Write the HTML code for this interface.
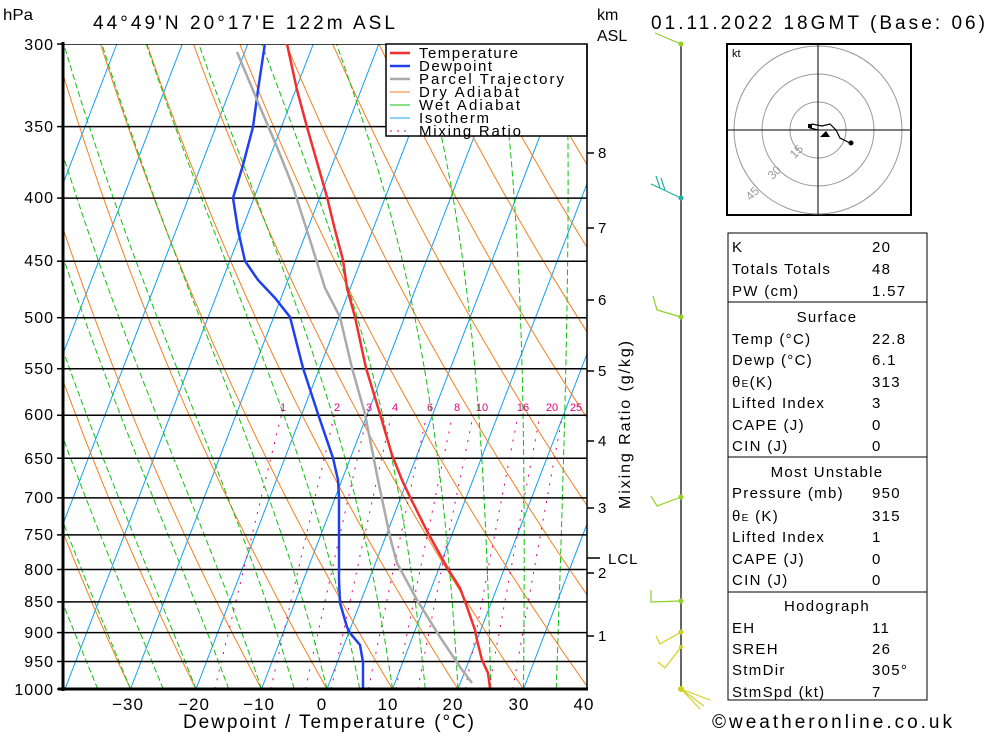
<!DOCTYPE html>
<html><head><meta charset="utf-8"><style>
body{margin:0;background:#fff;}
svg text{font-family:"Liberation Sans",sans-serif;}
.tb text{letter-spacing:1.3px;}
</style></head><body>
<svg id="s" width="1000" height="733" viewBox="0 0 1000 733" xmlns="http://www.w3.org/2000/svg">
<defs><clipPath id="c"><rect x="63" y="44" width="524" height="645"/></clipPath></defs>
<g id="bg" clip-path="url(#c)"></g>
<g id="fg" clip-path="url(#c)"></g>
<g font-size="16" fill="#000">
<text x="3" y="20" textLength="30" lengthAdjust="spacingAndGlyphs">hPa</text>
<text x="93" y="29" font-size="19" textLength="302" lengthAdjust="spacing">44°49'N  20°17'E  122m  ASL</text>
<text x="597" y="20">km</text>
<text x="597" y="41">ASL</text>
<text x="651" y="29" font-size="19" textLength="334" lengthAdjust="spacing">01.11.2022  18GMT  (Base: 06)</text>
<g text-anchor="end" letter-spacing="1">
<text x="54" y="50">300</text><text x="54" y="132">350</text><text x="54" y="203">400</text>
<text x="54" y="266">450</text><text x="54" y="323">500</text><text x="54" y="374">550</text>
<text x="54" y="420">600</text><text x="54" y="464">650</text><text x="54" y="503">700</text>
<text x="54" y="540">750</text><text x="54" y="575">800</text><text x="54" y="607">850</text>
<text x="54" y="638">900</text><text x="54" y="667">950</text><text x="54" y="695">1000</text>
</g>
<g text-anchor="middle" font-size="17" letter-spacing="1">
<text x="128" y="710">−30</text><text x="194" y="710">−20</text><text x="259" y="710">−10</text>
<text x="322" y="710">0</text><text x="388" y="710">10</text><text x="453" y="710">20</text>
<text x="519" y="710">30</text><text x="584" y="710">40</text>
</g>
<text x="183" y="728" font-size="19" textLength="291" lengthAdjust="spacing">Dewpoint / Temperature (°C)</text>
<g font-size="15">
<text x="598" y="158">8</text><text x="598" y="233">7</text><text x="598" y="305">6</text>
<text x="598" y="376">5</text><text x="598" y="446">4</text><text x="598" y="513">3</text>
<text x="598" y="578">2</text><text x="598" y="641">1</text><text x="608" y="564" letter-spacing="1">LCL</text>
</g>
<text x="630" y="425" font-size="16" text-anchor="middle" textLength="168" lengthAdjust="spacing" transform="rotate(-90 630 425)">Mixing Ratio (g/kg)</text>
<g font-size="11" fill="#e0007f" text-anchor="middle">
<text x="283" y="411">1</text><text x="337" y="411">2</text><text x="369" y="411">3</text>
<text x="395" y="411">4</text><text x="430" y="411">6</text><text x="457" y="411">8</text>
<text x="482" y="411">10</text><text x="523" y="411">16</text><text x="552" y="411">20</text>
<text x="576" y="411">25</text>
</g>
<text x="712" y="728" font-size="19" textLength="240" lengthAdjust="spacing">©weatheronline.co.uk</text>
</g>
<!-- pressure ticks left -->
<g stroke="#000" stroke-width="1.5" id="lt"></g>
<!-- legend -->
<g>
<rect x="386" y="44" width="201" height="92" fill="#fff" stroke="#000" stroke-width="1.5"/>
<g stroke-width="2">
<line x1="390" y1="53" x2="410" y2="53" stroke="#f03030" stroke-width="2.5"/>
<line x1="390" y1="66" x2="410" y2="66" stroke="#2040f0" stroke-width="2.5"/>
<line x1="390" y1="79" x2="410" y2="79" stroke="#aaa" stroke-width="2.5"/>
<line x1="390" y1="92" x2="410" y2="92" stroke="#f08020" stroke-width="1"/>
<line x1="390" y1="105" x2="410" y2="105" stroke="#10c010" stroke-width="1"/>
<line x1="390" y1="118" x2="410" y2="118" stroke="#10a0f0" stroke-width="1"/>
<line x1="390" y1="131" x2="410" y2="131" stroke="#e0007f" stroke-width="1" stroke-dasharray="2,5"/>
</g>
<g font-size="15">
<text x="419" y="58" textLength="99" lengthAdjust="spacing">Temperature</text>
<text x="419" y="71" textLength="73" lengthAdjust="spacing">Dewpoint</text>
<text x="419" y="84" textLength="145" lengthAdjust="spacing">Parcel Trajectory</text>
<text x="419" y="97" textLength="100" lengthAdjust="spacing">Dry Adiabat</text>
<text x="419" y="110" textLength="101" lengthAdjust="spacing">Wet Adiabat</text>
<text x="419" y="123" textLength="70" lengthAdjust="spacing">Isotherm</text>
<text x="419" y="136" textLength="102" lengthAdjust="spacing">Mixing Ratio</text>
</g>
</g>
<!-- hodograph -->
<g>
<rect x="727" y="44" width="184" height="171" fill="#fff" stroke="#000" stroke-width="2"/>
<g fill="none" stroke="#999"><circle cx="818" cy="130" r="28"/><circle cx="818" cy="130" r="56"/><circle cx="818" cy="130" r="84"/></g>
<line x1="727" y1="130" x2="911" y2="130" stroke="#000"/><line x1="818" y1="44" x2="818" y2="215" stroke="#000"/>
<text x="732" y="57" font-size="11">kt</text>
<g font-size="12" fill="#999"><text x="790" y="156" transform="rotate(-45 796 152)">15</text><text x="768" y="177" transform="rotate(-45 774 173)">30</text><text x="746" y="198" transform="rotate(-45 752 194)">45</text></g>
<polyline points="818,130 810,128 812,124 822,126 830,124 836,130 840,138 850,143" fill="none" stroke="#000" stroke-width="1.2"/>
<circle cx="851" cy="143" r="2.5" fill="#000"/><polygon points="826,131 820,137 830,137" fill="#000"/><rect x="808" y="124" width="4" height="4" fill="#000"/>
</g>
<!-- table -->
<g font-size="15" class="tb">
<rect x="728" y="233" width="199" height="467" fill="none" stroke="#000"/>
<line x1="728" y1="302" x2="927" y2="302" stroke="#000"/>
<line x1="728" y1="457" x2="927" y2="457" stroke="#000"/>
<line x1="728" y1="592" x2="927" y2="592" stroke="#000"/>
<text x="732" y="252">K</text><text x="872" y="252">20</text>
<text x="732" y="274">Totals Totals</text><text x="872" y="274">48</text>
<text x="732" y="296">PW (cm)</text><text x="872" y="296">1.57</text>
<text x="827" y="322" text-anchor="middle">Surface</text>
<text x="732" y="344">Temp (°C)</text><text x="872" y="344">22.8</text>
<text x="732" y="365">Dewp (°C)</text><text x="872" y="365">6.1</text>
<text x="732" y="387">θ<tspan font-size="10">E</tspan>(K)</text><text x="872" y="387">313</text>
<text x="732" y="408">Lifted Index</text><text x="872" y="408">3</text>
<text x="732" y="430">CAPE (J)</text><text x="872" y="430">0</text>
<text x="732" y="451">CIN (J)</text><text x="872" y="451">0</text>
<text x="827" y="477" text-anchor="middle">Most Unstable</text>
<text x="732" y="498">Pressure (mb)</text><text x="872" y="498">950</text>
<text x="732" y="521">θ<tspan font-size="10">E</tspan> (K)</text><text x="872" y="521">315</text>
<text x="732" y="542">Lifted Index</text><text x="872" y="542">1</text>
<text x="732" y="564">CAPE (J)</text><text x="872" y="564">0</text>
<text x="732" y="585">CIN (J)</text><text x="872" y="585">0</text>
<text x="827" y="611" text-anchor="middle">Hodograph</text>
<text x="732" y="633">EH</text><text x="872" y="633">11</text>
<text x="732" y="654">SREH</text><text x="872" y="654">26</text>
<text x="732" y="675">StmDir</text><text x="872" y="675">305°</text>
<text x="732" y="697">StmSpd (kt)</text><text x="872" y="697">7</text>
</g>
<!-- wind line -->
<g stroke-width="1.2" fill="none">
<line x1="681" y1="44" x2="681" y2="689" stroke="#000"/>
<path d="M681,44 L655,33" stroke="#90d020"/><circle cx="681" cy="44" r="2.5" fill="#90d020" stroke="none"/>
<path d="M681,198 L651,184 M660,188 L656,176 M665,190 L661,178" stroke="#20b0a0"/><circle cx="681" cy="198" r="2.5" fill="#20b0a0" stroke="none"/>
<path d="M681,317 L657,310 L653,296" stroke="#90d020"/><circle cx="681" cy="317" r="2.5" fill="#90d020" stroke="none"/>
<path d="M681,497 L657,506 L651,496" stroke="#90d020"/><circle cx="681" cy="497" r="2.5" fill="#90d020" stroke="none"/>
<path d="M681,601 L651,602 L651,590" stroke="#90d020"/><circle cx="681" cy="601" r="2.5" fill="#90d020" stroke="none"/>
<path d="M681,632 L660,644 L656,636" stroke="#d0d020"/><circle cx="681" cy="632" r="2.5" fill="#d0d020" stroke="none"/>
<path d="M681,647 L665,668 L658,662" stroke="#d0d020"/><circle cx="681" cy="647" r="2" fill="#d0d020" stroke="none"/>
<path d="M681,689 L710,700 M681,689 L704,706 M681,689 L700,709" stroke="#d0d020"/><circle cx="681" cy="689" r="3" fill="#d0d020" stroke="none"/>
</g>
<!-- axes -->
<g stroke="#000">
<line x1="63" y1="42" x2="63" y2="691" stroke-width="3"/>
<line x1="58" y1="689" x2="588" y2="689" stroke-width="3"/>
<line x1="587" y1="44" x2="587" y2="689" stroke-width="1.5"/>
<g stroke-width="1.5"><line x1="587" y1="153" x2="594" y2="153"/><line x1="587" y1="228" x2="594" y2="228"/><line x1="587" y1="300" x2="594" y2="300"/><line x1="587" y1="371" x2="594" y2="371"/><line x1="587" y1="441" x2="594" y2="441"/><line x1="587" y1="508" x2="594" y2="508"/><line x1="587" y1="573" x2="594" y2="573"/><line x1="587" y1="636" x2="594" y2="636"/><line x1="587" y1="558" x2="600" y2="558"/></g>
</g>
<script>
(function(){
var NS="http://www.w3.org/2000/svg";
function X(T,y){return 327+6.55*T+0.385*(689-y);}
function Y(p){return 44+645*Math.log(p/300)/Math.log(1000/300);}
var bg=document.getElementById('bg'),fg=document.getElementById('fg'),lt=document.getElementById('lt');
function pl(g,pts,col,w,dash){var e=document.createElementNS(NS,'polyline');e.setAttribute('points',pts.map(function(a){return a[0].toFixed(1)+','+a[1].toFixed(1)}).join(' '));e.setAttribute('fill','none');e.setAttribute('stroke',col);e.setAttribute('stroke-width',w);if(dash)e.setAttribute('stroke-dasharray',dash);g.appendChild(e);}
var p,T,pts;
for(T=-130;T<=40;T+=10){pl(bg,[[X(T,Y(1000)),Y(1000)],[X(T,Y(300)),Y(300)]],'#10a0f0',1);}
for(var th=233.15;th<=483;th+=10){pts=[];for(p=1000;p>=300;p-=10){T=th*Math.pow(p/1000,0.286)-273.15;var y=Y(p);pts.push([X(T,y),y]);}pl(bg,pts,'#f08020',1);}
function es(Tc){return 6.112*Math.exp(17.67*Tc/(Tc+243.5));}
for(var T0=-40;T0<=40;T0+=5){pts=[];T=T0+273.15;for(p=1000;p>=300;p-=2){var Tc=T-273.15;var e=es(Tc);var rs=0.622*e/(p-e);var y=Y(p);pts.push([X(Tc,y),y]);var dTdp=(287*T+2.5e6*rs)/(p*(1004+2.5e6*2.5e6*rs*0.622/(287*T*T)));T-=dTdp*2;}pl(bg,pts,'#10c010',1,'6,3');}
[1,2,3,4,6,8,10,16,20,25].forEach(function(w){pts=[];for(p=1000;p>=600;p-=20){var e=w/1000*p/(0.622+w/1000);var l=Math.log(e/6.112);var Tc=243.5*l/(17.67-l);var y=Y(p);pts.push([X(Tc,y),y]);}pl(bg,pts,'#e0007f',1,'2,7');});
for(p=300;p<=1000;p+=50){var y=Y(p);pl(bg,[[63,y],[587,y]],'#000',1.5);pl(lt,[[57,y],[63,y]],'#000',1.5);}
pl(fg,[[287,44],[297,90],[307,127],[317,162],[327,197],[335,230],[343,260],[347,288],[355,317],[366,368],[380,414],[392,455],[402,480],[410,497],[428,533],[448,569],[460,588],[467,607],[475,630],[477,640],[482,660],[488,673],[490,688]],'#f03030',2.5);
pl(fg,[[265,43],[258,90],[253,127],[243,165],[233,198],[238,230],[245,261],[258,280],[275,298],[290,317],[303,368],[318,414],[333,458],[338,480],[339,497],[339,580],[340,603],[347,627],[350,633],[360,645],[363,662],[363,688]],'#2040f0',2.5);
pl(fg,[[237,52],[260,107],[277,147],[293,187],[310,240],[325,288],[340,317],[352,368],[365,414],[378,480],[385,513],[390,537],[397,563],[417,600],[440,637],[460,667],[472,683]],'#aaa',2.5);
})();
</script>
</svg>
</body></html>
